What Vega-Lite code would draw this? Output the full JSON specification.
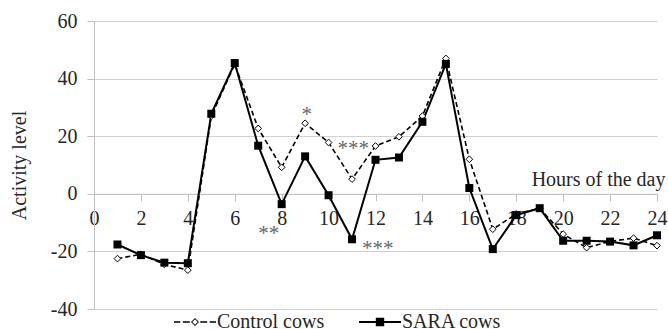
{
  "$schema": "https://vega.github.io/schema/vega-lite/v6.json",
  "width": 563,
  "height": 288,
  "autosize": {"type": "none"},
  "padding": {"left": 94, "top": 21, "right": 11, "bottom": 20},
  "background": "white",
  "config": {
    "view": {"stroke": null},
    "font": "Liberation Serif",
    "axis": {"labelFont": "Liberation Serif", "titleFont": "Liberation Serif", "labelFontSize": 20, "titleFontSize": 20, "labelColor": "#262626", "titleColor": "#262626", "titleFontWeight": "normal"}
  },
  "datasets": {
    "series": [
      {"hour": 1, "value": -22.5, "group": "Control cows"},
      {"hour": 2, "value": -21, "group": "Control cows"},
      {"hour": 3, "value": -24.5, "group": "Control cows"},
      {"hour": 4, "value": -26.5, "group": "Control cows"},
      {"hour": 5, "value": 27, "group": "Control cows"},
      {"hour": 6, "value": 45, "group": "Control cows"},
      {"hour": 7, "value": 22.7, "group": "Control cows"},
      {"hour": 8, "value": 9.2, "group": "Control cows"},
      {"hour": 9, "value": 24.5, "group": "Control cows"},
      {"hour": 10, "value": 17.8, "group": "Control cows"},
      {"hour": 11, "value": 5.1, "group": "Control cows"},
      {"hour": 12, "value": 16.6, "group": "Control cows"},
      {"hour": 13, "value": 19.8, "group": "Control cows"},
      {"hour": 14, "value": 27, "group": "Control cows"},
      {"hour": 15, "value": 47, "group": "Control cows"},
      {"hour": 16, "value": 12, "group": "Control cows"},
      {"hour": 17, "value": -12.3, "group": "Control cows"},
      {"hour": 18, "value": -7, "group": "Control cows"},
      {"hour": 19, "value": -5, "group": "Control cows"},
      {"hour": 20, "value": -14, "group": "Control cows"},
      {"hour": 21, "value": -18.7, "group": "Control cows"},
      {"hour": 22, "value": -16.5, "group": "Control cows"},
      {"hour": 23, "value": -15.4, "group": "Control cows"},
      {"hour": 24, "value": -18, "group": "Control cows"},
      {"hour": 1, "value": -17.6, "group": "SARA cows"},
      {"hour": 2, "value": -21.3, "group": "SARA cows"},
      {"hour": 3, "value": -23.9, "group": "SARA cows"},
      {"hour": 4, "value": -24.1, "group": "SARA cows"},
      {"hour": 5, "value": 27.8, "group": "SARA cows"},
      {"hour": 6, "value": 45.4, "group": "SARA cows"},
      {"hour": 7, "value": 16.7, "group": "SARA cows"},
      {"hour": 8, "value": -3.6, "group": "SARA cows"},
      {"hour": 9, "value": 13, "group": "SARA cows"},
      {"hour": 10, "value": -0.5, "group": "SARA cows"},
      {"hour": 11, "value": -15.8, "group": "SARA cows"},
      {"hour": 12, "value": 11.8, "group": "SARA cows"},
      {"hour": 13, "value": 12.6, "group": "SARA cows"},
      {"hour": 14, "value": 25, "group": "SARA cows"},
      {"hour": 15, "value": 45.1, "group": "SARA cows"},
      {"hour": 16, "value": 2, "group": "SARA cows"},
      {"hour": 17, "value": -19.2, "group": "SARA cows"},
      {"hour": 18, "value": -7.4, "group": "SARA cows"},
      {"hour": 19, "value": -5, "group": "SARA cows"},
      {"hour": 20, "value": -16.3, "group": "SARA cows"},
      {"hour": 21, "value": -16.3, "group": "SARA cows"},
      {"hour": 22, "value": -16.6, "group": "SARA cows"},
      {"hour": 23, "value": -17.9, "group": "SARA cows"},
      {"hour": 24, "value": -14.4, "group": "SARA cows"}
    ],
    "notes": [
      {"hour": 9.07, "value": 28.9, "label": "*"},
      {"hour": 7.45, "value": -12.6, "label": "**"},
      {"hour": 11.05, "value": 17, "label": "***"},
      {"hour": 12.1, "value": -17.7, "label": "***"}
    ]
  },
  "layer": [
    {
      "data": {"name": "series"},
      "transform": [{"filter": "datum.group == 'Control cows'"}],
      "mark": {"type": "line", "color": "black", "strokeDash": [5, 3], "strokeWidth": 1.6},
      "encoding": {
        "x": {"field": "hour", "type": "quantitative", "scale": {"domain": [0, 24], "nice": false},
          "axis": {"values": [0, 2, 4, 6, 8, 10, 12, 14, 16, 18, 20, 22, 24], "offset": -115.2, "grid": false, "domainColor": "#bfbfbf", "tickColor": "#bfbfbf", "tickSize": 7, "labelPadding": 8, "title": "Hours of the day", "titleX": 571, "titleY": -8, "titleAlign": "right", "titleBaseline": "alphabetic", "titleAnchor": null, "labelFlush": false}},
        "y": {"field": "value", "type": "quantitative", "scale": {"domain": [-40, 60], "nice": false},
          "axis": {"values": [-40, -20, 0, 20, 40, 60], "labelExpr": "'' + datum.value", "grid": true, "gridColor": "#d0d0d0", "domainColor": "#bfbfbf", "tickColor": "#bfbfbf", "tickSize": 7, "labelPadding": 10, "title": "Activity  level", "titleX": -75, "titleY": 144, "titleAngle": -90, "titleAlign": "center", "titleBaseline": "middle", "titleAnchor": null}}
      }
    },
    {
      "data": {"name": "series"},
      "transform": [{"filter": "datum.group == 'SARA cows'"}],
      "mark": {"type": "line", "color": "black", "strokeWidth": 2},
      "encoding": {
        "x": {"field": "hour", "type": "quantitative"},
        "y": {"field": "value", "type": "quantitative"}
      }
    },
    {
      "data": {"name": "series"},
      "transform": [{"filter": "datum.group == 'Control cows'"}],
      "mark": {"type": "point", "shape": "diamond", "filled": false, "fill": "white", "stroke": "black", "strokeWidth": 1, "opacity": 1, "size": 45},
      "encoding": {
        "x": {"field": "hour", "type": "quantitative"},
        "y": {"field": "value", "type": "quantitative"}
      }
    },
    {
      "data": {"name": "series"},
      "transform": [{"filter": "datum.group == 'SARA cows'"}],
      "mark": {"type": "point", "shape": "square", "filled": true, "color": "black", "opacity": 1, "size": 64},
      "encoding": {
        "x": {"field": "hour", "type": "quantitative"},
        "y": {"field": "value", "type": "quantitative"}
      }
    },
    {
      "data": {"name": "series"},
      "transform": [{"filter": "false"}],
      "mark": {"type": "point", "filled": true, "color": "black", "opacity": 1, "strokeWidth": 0},
      "encoding": {
        "x": {"field": "hour", "type": "quantitative"},
        "y": {"field": "value", "type": "quantitative"},
        "shape": {"field": "group", "type": "nominal",
          "scale": {"domain": ["Control cows", "SARA cows"], "range": [
            "M-1,-0.036H-0.7V0.036H-1ZM-0.58,-0.036H-0.25V0.036H-0.58ZM0.25,-0.036H0.58V0.036H0.25ZM0.7,-0.036H1V0.036H0.7ZM0,-0.19L0.19,0L0,0.19L-0.19,0ZM0,-0.13L-0.13,0L0,0.13L0.13,0Z",
            "M-1,-0.048H1V0.048H-1ZM-0.2,-0.2H0.2V0.2H-0.2Z"
          ]},
          "legend": {"title": null, "orient": "none", "legendX": 80, "legendY": 280, "direction": "horizontal", "symbolSize": 1764, "symbolOpacity": 1, "symbolFillColor": "black", "symbolStrokeWidth": 0, "labelFont": "Liberation Serif", "labelFontSize": 20, "labelColor": "#262626", "labelOffset": 1, "columnPadding": 34}}
      }
    },
    {
      "data": {"name": "notes"},
      "mark": {"type": "text", "font": "Liberation Serif", "fontSize": 21, "color": "#666666", "baseline": "middle", "align": "center", "dy": 4},
      "encoding": {
        "x": {"field": "hour", "type": "quantitative"},
        "y": {"field": "value", "type": "quantitative"},
        "text": {"field": "label"}
      }
    }
  ]
}
